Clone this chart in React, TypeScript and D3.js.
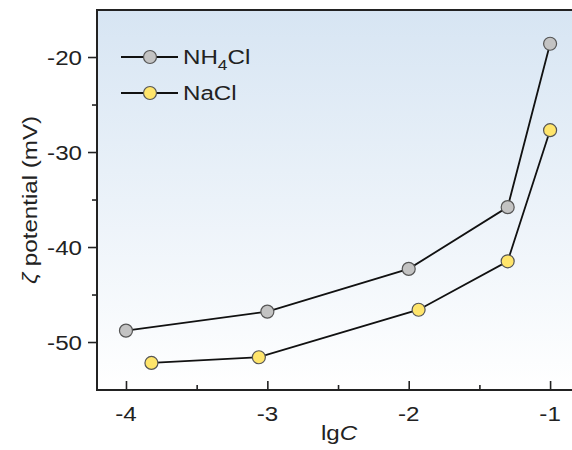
import React, { useEffect, useRef } from 'react'
import * as d3 from 'd3'

// values
const nh4clX = [-4, -3, -2, -1.3, -1]
const nh4clY = [-48.8, -46.8, -42.3, -35.8, -18.6]
const naclX = [-3.82, -3.06, -1.93, -1.3, -1]
const naclY = [-52.2, -51.6, -46.6, -41.5, -27.7]
const xTicks = [-4, -3, -2, -1]
const xMinor = [-3.5, -2.5, -1.5]
const yTicks = [-20, -30, -40, -50]
const yMinor = [-25, -35, -45]

const seriesList = [
  { name: 'NH4Cl', xs: nh4clX, ys: nh4clY, fill: '#c3c3c3' },
  { name: 'NaCl', xs: naclX, ys: naclY, fill: '#ffe56b' }
]

function App () {
  const ref = useRef<SVGSVGElement>(null)

  useEffect(() => {
    const width = 572
    const height = 450
    const margin = { top: 10, right: 0, bottom: 60, left: 97 }
    const svg = d3.select(ref.current)
    svg.selectAll('*').remove()

    const x = d3.scaleLinear().domain([-4.205, -0.845]).range([margin.left, width - margin.right])
    const y = d3.scaleLinear().domain([-55.05, -15.05]).range([height - margin.bottom, margin.top])

    const defs = svg.append('defs')
    const grad = defs.append('linearGradient')
      .attr('id', 'bg').attr('x1', 0).attr('y1', 0).attr('x2', 0).attr('y2', 1)
    grad.append('stop').attr('offset', '0%').attr('stop-color', '#d7e5f3')
    grad.append('stop').attr('offset', '100%').attr('stop-color', '#ffffff')

    svg.append('rect')
      .attr('x', margin.left).attr('y', margin.top)
      .attr('width', width - margin.left - margin.right)
      .attr('height', height - margin.bottom - margin.top)
      .attr('fill', 'url(#bg)')

    const font = '"Liberation Sans", Arial, sans-serif'
    const axisColor = '#222'
    const fs = 21
    const stretch = 1.15

    // text with the wide look of the original
    const label = (px: number, py: number, anchor: string, rot = 0) =>
      svg.append('text')
        .attr('transform', 'translate(' + px + ',' + py + ') rotate(' + rot + ') scale(' + stretch + ',1)')
        .attr('text-anchor', anchor)
        .attr('fill', '#222')
        .style('font-family', font).style('font-size', fs + 'px').style('font-weight', 400)

    // x axis, ticks point inward
    const xAxis = svg.append('g').attr('transform', 'translate(0,' + (height - margin.bottom) + ')')
    xAxis.call(d3.axisBottom(x).tickValues(xTicks).tickSize(-9).tickFormat(() => ''))
    xAxis.append('g').call(d3.axisBottom(x).tickValues(xMinor).tickSize(-5).tickFormat(() => ''))
    xAxis.selectAll('.domain').remove()
    xAxis.append('line')
      .attr('x1', margin.left).attr('x2', width).attr('stroke', axisColor).attr('stroke-width', 2)
    xTicks.forEach(t => label(x(t), 421, 'middle').text(String(t)))

    // y axis, ticks point outward
    const yAxis = svg.append('g').attr('transform', 'translate(' + margin.left + ',0)')
    yAxis.call(d3.axisLeft(y).tickValues(yTicks).tickSize(9).tickFormat(() => ''))
    yAxis.append('g').call(d3.axisLeft(y).tickValues(yMinor).tickSize(5).tickFormat(() => ''))
    yAxis.selectAll('.domain').remove()
    yAxis.append('line')
      .attr('y1', margin.top - 1).attr('y2', height - margin.bottom + 1)
      .attr('stroke', axisColor).attr('stroke-width', 2)
    yTicks.forEach(t => label(82, y(t) + 8, 'end').text(String(t)))

    svg.selectAll('.tick line').attr('stroke', axisColor).attr('stroke-width', 1.6)

    // top border
    svg.append('line')
      .attr('x1', margin.left - 1).attr('x2', width).attr('y1', margin.top).attr('y2', margin.top)
      .attr('stroke', axisColor).attr('stroke-width', 2)

    seriesList.forEach(s => {
      const pts = s.xs.map((v, i) => [x(v), y(s.ys[i])] as [number, number])
      svg.append('path')
        .attr('d', d3.line()(pts))
        .attr('fill', 'none').attr('stroke', '#111').attr('stroke-width', 1.8)
      svg.append('g').selectAll('circle')
        .data(pts).enter().append('circle')
        .attr('cx', d => d[0]).attr('cy', d => d[1]).attr('r', 6.5)
        .attr('fill', s.fill).attr('stroke', '#555').attr('stroke-width', 1.2)
    })

    // legend
    seriesList.forEach((s, i) => {
      const ly = 57 + i * 36
      svg.append('line')
        .attr('x1', 121).attr('x2', 178).attr('y1', ly).attr('y2', ly)
        .attr('stroke', '#111').attr('stroke-width', 1.8)
      svg.append('circle')
        .attr('cx', 150).attr('cy', ly).attr('r', 6.5)
        .attr('fill', s.fill).attr('stroke', '#555').attr('stroke-width', 1.2)
      const t = label(183, ly + 7, 'start')
      if (s.name === 'NH4Cl') {
        t.append('tspan').text('NH')
        t.append('tspan').attr('dy', 6).style('font-size', '15px').text('4')
        t.append('tspan').attr('dy', -6).text('Cl')
      } else {
        t.text(s.name)
      }
    })

    // axis labels
    const xl = label(339, 440, 'middle')
    xl.append('tspan').text('lg')
    xl.append('tspan').style('font-style', 'italic').text('C')

    const yl = label(37, 200, 'middle', -90)
    yl.append('tspan').style('font-style', 'italic').text('ζ')
    yl.append('tspan').text(' potential (mV)')
  }, [])

  return (
    <svg ref={ref} width={572} height={450} style={{ position: 'absolute', left: 0, top: 0 }} />
  )
}

export default App
